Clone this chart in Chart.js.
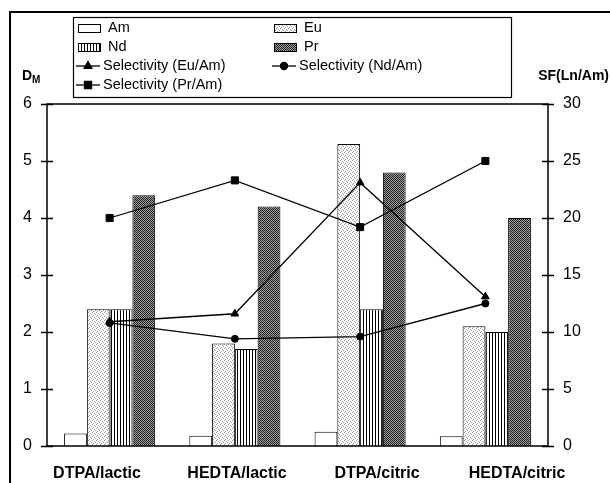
<!DOCTYPE html>
<html>
<head>
<meta charset="utf-8">
<script src="https://cdn.jsdelivr.net/npm/chart.js@4/dist/chart.umd.min.js"></script>
<style>
    html, body { margin: 0; padding: 0; background: #fff; }
    #wrap { width: 610px; height: 483px; position: relative; }
</style>
</head>
<body>
<div id="wrap"><canvas id="dm-chart"></canvas></div>
<script>
// Data
const categories = ['DTPA/lactic', 'HEDTA/lactic', 'DTPA/citric', 'HEDTA/citric'];
const amValues = [0.22, 0.18, 0.25, 0.17];
const euValues = [2.4, 1.8, 5.3, 2.1];
const ndValues = [2.4, 1.7, 2.4, 2.0];
const prValues = [4.4, 4.2, 4.8, 4.0];
const selEuAm = [10.9, 11.6, 23.1, 13.1];
const selNdAm = [10.8, 9.4, 9.6, 12.5];
const selPrAm = [20.0, 23.3, 19.2, 25.0];
const leftTicks = [0, 1, 2, 3, 4, 5, 6];
const rightTicks = [0, 5, 10, 15, 20, 25, 30];

function makePattern(kind) {
    const c = document.createElement('canvas');
    const p = c.getContext('2d');
    if (kind === 'dots') {
        c.width = 4; c.height = 4;
        p.fillStyle = '#fff';
        p.fillRect(0, 0, 4, 4);
        p.fillStyle = '#9a9a9a';
        p.fillRect(0, 0, 1, 1);
        p.fillRect(2, 1, 1, 1);
        p.fillRect(1, 3, 1, 1);
        p.fillRect(3, 2, 1, 1);
    } else if (kind === 'vlines') {
        c.width = 3; c.height = 1;
        p.fillStyle = '#fff';
        p.fillRect(0, 0, 3, 1);
        p.fillStyle = '#000';
        p.fillRect(0, 0, 1, 1);
    } else {
        c.width = 2; c.height = 2;
        p.fillStyle = '#a0a0a0';
        p.fillRect(0, 0, 2, 2);
        p.fillStyle = '#202020';
        p.fillRect(0, 0, 1, 1);
        p.fillRect(1, 1, 1, 1);
    }
    return document.createElement('canvas').getContext('2d').createPattern(c, 'repeat');
}

const FONT = 'Arial, "Liberation Sans", sans-serif';

// legend entries laid out in two columns like the original
const legendSlots = [
    { x: 78, y: 28 }, { x: 274, y: 28 },
    { x: 78, y: 47 }, { x: 274, y: 47 },
    { x: 78, y: 66 }, { x: 274, y: 66 },
    { x: 78, y: 85 }
];

const framePlugin = {
    id: 'frame',
    afterDraw(chart) {
        const ctx = chart.ctx;
        const area = chart.chartArea;
        ctx.save();

        // outer border
        ctx.strokeStyle = '#000';
        ctx.lineWidth = 2;
        ctx.strokeRect(10, 12, 620, 500);

        // plot box
        ctx.lineWidth = 1.5;
        ctx.strokeRect(area.left, area.top, area.right - area.left, area.bottom - area.top);

        // crossing tick marks on both value axes
        ['y', 'y1'].forEach(id => {
            const sc = chart.scales[id];
            const x = id === 'y' ? area.left : area.right;
            sc.ticks.forEach(t => {
                const yy = Math.round(sc.getPixelForValue(t.value)) + 0.5;
                ctx.beginPath();
                ctx.moveTo(x - 6, yy);
                ctx.lineTo(x + 6, yy);
                ctx.stroke();
            });
        });

        // axis titles
        ctx.fillStyle = '#000';
        ctx.textBaseline = 'alphabetic';
        ctx.font = 'bold 14px ' + FONT;
        ctx.textAlign = 'left';
        ctx.fillText('D', 22, 80);
        const dw = ctx.measureText('D').width;
        ctx.font = 'bold 10px ' + FONT;
        ctx.fillText('M', 22 + dw, 83);
        ctx.font = 'bold 14px ' + FONT;
        ctx.textAlign = 'right';
        ctx.fillText('SF(Ln/Am)', 609, 80);

        // legend box
        ctx.lineWidth = 1.2;
        ctx.strokeRect(73.5, 17.5, 438, 80);
        ctx.font = '14.5px ' + FONT;
        ctx.textAlign = 'left';
        ctx.textBaseline = 'middle';
        chart.data.datasets.forEach((ds, i) => {
            const s = legendSlots[i];
            if (ds.type === 'line') {
                ctx.strokeStyle = '#000';
                ctx.lineWidth = 1.3;
                ctx.beginPath();
                ctx.moveTo(s.x - 2, s.y);
                ctx.lineTo(s.x + 22, s.y);
                ctx.stroke();
                Chart.helpers.drawPoint(ctx, {
                    pointStyle: ds.pointStyle,
                    radius: ds.pointRadius,
                    rotation: 0,
                    borderWidth: 1
                }, s.x + 10, s.y);
                ctx.fillStyle = '#000';
                ctx.fill();
                ctx.fillText(ds.label, s.x + 25, s.y);
            } else {
                ctx.fillStyle = ds.backgroundColor;
                ctx.fillRect(s.x, s.y - 4, 22, 9);
                ctx.strokeStyle = '#000';
                ctx.lineWidth = 1;
                ctx.strokeRect(s.x + 0.5, s.y - 3.5, 22, 8);
                ctx.fillStyle = '#000';
                ctx.fillText(ds.label, s.x + 30, s.y);
            }
        });
        ctx.restore();
    }
};

function barSet(label, data, fill) {
    return {
        type: 'bar',
        label,
        data,
        backgroundColor: fill,
        borderColor: '#000',
        borderWidth: 1,
        barPercentage: 1.0,
        categoryPercentage: 0.727,
        yAxisID: 'y',
        order: 2
    };
}

function lineSet(label, data, style, radius) {
    return {
        type: 'line',
        label,
        data,
        borderColor: '#000',
        backgroundColor: '#000',
        borderWidth: 1.3,
        pointStyle: style,
        pointRadius: radius,
        pointBorderWidth: 1,
        tension: 0,
        yAxisID: 'y1',
        order: 1
    };
}

new Chart(document.getElementById('dm-chart'), {
    data: {
        labels: categories,
        datasets: [
            barSet('Am', amValues, '#fff'),
            barSet('Eu', euValues, makePattern('dots')),
            barSet('Nd', ndValues, makePattern('vlines')),
            barSet('Pr', prValues, makePattern('checker')),
            lineSet('Selectivity (Eu/Am)', selEuAm, 'triangle', 4.5),
            lineSet('Selectivity (Nd/Am)', selNdAm, 'circle', 3.5),
            lineSet('Selectivity (Pr/Am)', selPrAm, 'rect', 5)
        ]
    },
    options: {
        responsive: true,
        maintainAspectRatio: false,
        animation: false,
        layout: { padding: { top: 104, left: 0, right: 0, bottom: 0 } },
        plugins: {
            legend: { display: false },
            tooltip: { enabled: false }
        },
        scales: {
            x: {
                type: 'category',
                display: false,
                offset: true
            },
            // separate axis for the group names, which sit slightly off the bar groups
            xl: {
                type: 'linear',
                position: 'bottom',
                min: -0.357,
                max: 3.221,
                grid: { display: false },
                border: { display: false },
                afterFit(scale) { scale.height = 37; },
                ticks: {
                    stepSize: 1,
                    includeBounds: false,
                    autoSkip: false,
                    maxRotation: 0,
                    padding: 10,
                    color: '#000',
                    font: { family: FONT, size: 16, weight: 'bold' },
                    callback: v => Number.isInteger(v) ? categories[v] : ''
                }
            },
            y: {
                position: 'left',
                min: 0,
                max: 6,
                grid: { display: false },
                border: { display: false },
                afterFit(scale) { scale.width = 47; },
                afterBuildTicks(scale) { scale.ticks = leftTicks.map(v => ({ value: v })); },
                ticks: {
                    padding: 7,
                    color: '#000',
                    font: { family: FONT, size: 16 }
                }
            },
            y1: {
                position: 'right',
                min: 0,
                max: 30,
                grid: { display: false },
                border: { display: false },
                afterFit(scale) { scale.width = 62; },
                afterBuildTicks(scale) { scale.ticks = rightTicks.map(v => ({ value: v })); },
                ticks: {
                    padding: 7,
                    color: '#000',
                    font: { family: FONT, size: 16 }
                }
            }
        }
    },
    plugins: [framePlugin]
});
</script>
</body>
</html>
